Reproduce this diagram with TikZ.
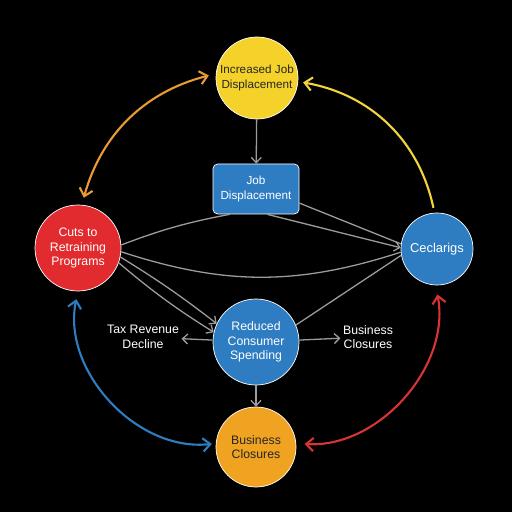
\documentclass[tikz,border=0pt]{standalone}
\usepackage{fontspec}
\setmainfont{Liberation Sans}
\usetikzlibrary{arrows.meta}
\definecolor{sunyellow}{HTML}{F4D22A}
\definecolor{alarmred}{HTML}{E12B2E}
\definecolor{flowblue}{HTML}{2E7DC3}
\definecolor{amber}{HTML}{F0A321}
\definecolor{arcorange}{HTML}{E99B33}
\definecolor{arcyellow}{HTML}{F3D43C}
\definecolor{arcred}{HTML}{D93434}
\definecolor{wiregray}{HTML}{9C9C9C}
\tikzset{
  bubble/.style={circle,draw=white,line width=0.6pt,align=center,inner sep=0pt,text=white,font=\fontsize{10.5}{12.5}\selectfont},
  card/.style={rectangle,rounded corners=4pt,draw=white,line width=0.6pt,fill=flowblue,align=center,text=white,minimum width=2.58cm,minimum height=1.5cm,font=\fontsize{10}{12.5}\selectfont},
  plaintext/.style={align=center,text=white,inner sep=2pt,font=\fontsize{10.5}{12.5}\selectfont},
  wire/.style={draw=wiregray,line width=1.1pt},
  flow/.style={wire,-{Straight Barb[length=1.6mm,width=3mm]}},
  arcline/.style={line width=1.8pt},
  twoway/.style={arcline,{Straight Barb[length=2.2mm,width=4mm]}-{Straight Barb[length=2.2mm,width=4mm]}},
  oneway/.style={arcline,-{Straight Barb[length=2.2mm,width=4mm]}}
}
\begin{document}
\begin{tikzpicture}[x=0.03cm,y=0.03cm]
\fill[black] (0,0) rectangle (512,512);
\node[bubble,fill=sunyellow,text=black!85,minimum size=2.46cm,font=\fontsize{10}{12.5}\selectfont] (incjob) at (257,434) {Increased Job\\Displacement};
\node[card] (jobdisp) at (256,323) {Job\\Displacement};
\node[bubble,fill=alarmred,minimum size=2.58cm] (cuts) at (78,264) {Cuts to\\Retraining\\Programs};
\node[bubble,fill=flowblue,minimum size=2.16cm,font=\fontsize{11}{13}\selectfont] (ceclar) at (437,263) {Ceclarigs};
\node[bubble,fill=flowblue,minimum size=2.58cm] (spend) at (256,170) {Reduced\\Consumer\\Spending};
\node[bubble,fill=amber,text=black!85,minimum size=2.4cm] (closeb) at (256,65) {Business\\Closures};
\node[plaintext] (taxrev) at (143,175) {Tax Revenue\\Decline};
\node[plaintext] (closet) at (368,175) {Business\\Closures};
\draw[flow] (incjob) -- (jobdisp);
\draw[flow] (spend) -- (closeb);
\draw[flow] (spend) -- (taxrev);
\draw[flow] (spend) -- (closet);
\draw[wire] (cuts.4) to[bend left=5] (jobdisp.-136);
\draw[wire] (cuts.-5) to[bend right=18] (ceclar.185);
\draw[flow] (cuts.-12) to[bend left=3] (spend.155);
\draw[flow] (cuts.-20) to[bend right=4] (spend.167);
\draw[flow] (jobdisp.-66) -- (ceclar.178);
\draw[wire] (jobdisp.-18) -- (ceclar.172);
\draw[wire] (spend.23) -- (ceclar.190);
\draw[twoway,arcorange,shorten <=2.2mm,shorten >=2.2mm] (incjob.174) to[bend right=30] (cuts.85);
\draw[oneway,arcyellow,shorten <=1.5mm,shorten >=1.5mm] (ceclar.94) to[bend right=34] (incjob.-5);
\draw[twoway,flowblue,shorten <=2.4mm,shorten >=1.2mm] (cuts.-90) to[bend right=54] (closeb.175);
\draw[twoway,arcred,shorten <=2.5mm,shorten >=2.8mm] (closeb.5) to[bend right=52] (ceclar.-92);
\end{tikzpicture}
\end{document}
